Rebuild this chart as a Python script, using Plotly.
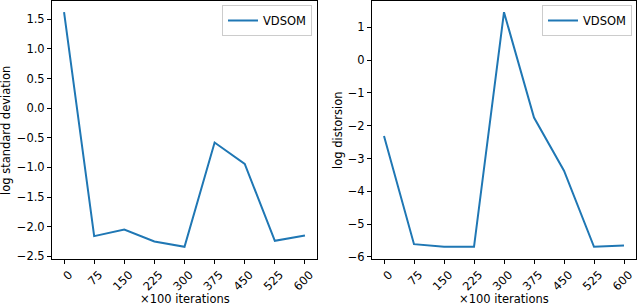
import plotly.graph_objects as go

iterations = [0, 75, 150, 225, 300, 375, 450, 525, 600]
tick_labels = ["0", "75", "150", "225", "300", "375", "450", "525", "600"]
log_std = [1.62, -2.16, -2.05, -2.25, -2.34, -0.58, -0.94, -2.24, -2.15]
log_distortion = [-2.31, -5.61, -5.69, -5.69, 1.46, -1.75, -3.37, -5.69, -5.65]
series_name = "VDSOM"
x_title = "×100 iterations"
y_titles = ["log standard deviation", "log distorsion"]

W, H = 640, 306
BLUE = "#1f77b4"
FONT = dict(family="DejaVu Sans", size=11.5, color="black")

def pad(vals, m=0.05):
    lo, hi = min(vals), max(vals)
    r = hi - lo
    return [lo - m * r, hi + m * r]

fig = go.Figure()
fig.add_trace(go.Scatter(x=iterations, y=log_std, mode="lines", name=series_name, showlegend=True,
                         line=dict(color=BLUE, width=2), xaxis="x", yaxis="y", legend="legend"))
fig.add_trace(go.Scatter(x=iterations, y=log_distortion, mode="lines", name=series_name, showlegend=True,
                         line=dict(color=BLUE, width=2), xaxis="x2", yaxis="y2", legend="legend2"))

xr = pad(iterations)
ydom = [1 - 258.5 / H, 1 - 0.5 / H]
axcommon = dict(showline=True, linecolor="black", linewidth=1, mirror=True, ticks="outside",
                ticklen=4, tickcolor="black", showgrid=False, zeroline=False,
                tickfont=FONT, automargin=False)
fig.update_layout(
    width=W, height=H, margin=dict(l=0, r=0, t=0, b=0, autoexpand=False),
    paper_bgcolor="white", plot_bgcolor="white", font=FONT, showlegend=True,
    xaxis=dict(domain=[52 / W, 317 / W], range=xr, tickvals=iterations, ticktext=tick_labels,
               tickangle=-45, anchor="y", ticklabelshift=5, **axcommon),
    yaxis=dict(domain=ydom, range=pad(log_std), dtick=0.5, tickformat=".1f", anchor="x", **axcommon),
    xaxis2=dict(domain=[372 / W, 636 / W], range=xr, tickvals=iterations, ticktext=tick_labels,
                tickangle=-45, anchor="y2", ticklabelshift=5, **axcommon),
    yaxis2=dict(domain=ydom, range=pad(log_distortion), dtick=1, tickformat="d", anchor="x2", **axcommon),
    legend=dict(x=312 / W, y=1 - 5 / H, xanchor="right", yanchor="top", bgcolor="white",
                bordercolor="#cccccc", borderwidth=1, font=FONT, itemwidth=30),
    legend2=dict(x=632 / W, y=1 - 5 / H, xanchor="right", yanchor="top", bgcolor="white",
                 bordercolor="#cccccc", borderwidth=1, font=FONT, itemwidth=30),
)

ann = []
for cx in [(52 + 317) / 2, (372 + 636) / 2]:
    ann.append(dict(text=x_title, x=cx / W, y=1 - 299 / H, xref="paper", yref="paper",
                    showarrow=False, font=FONT, xanchor="center", yanchor="middle"))
for cx, t in zip([6, 338], y_titles):
    ann.append(dict(text=t, x=cx / W, y=1 - 131 / H, xref="paper", yref="paper", textangle=-90,
                    showarrow=False, font=FONT, xanchor="center", yanchor="middle"))
fig.update_layout(annotations=ann)

fig.write_html("out.html", config={"displayModeBar": False},
               post_script="document.body.style.margin='0';")
